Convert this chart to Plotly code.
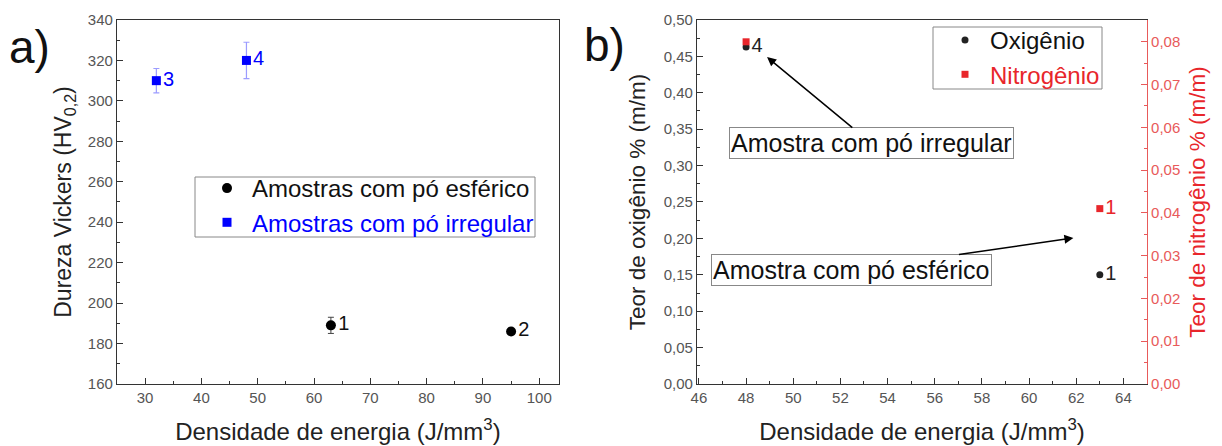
import plotly.graph_objects as go

# ---- Panel a: Vickers hardness ----
esf_labels = ["1", "2"]
esf_energy = [63, 95]
esf_hv = [189, 186]
esf_err = [4, 1]

irr_labels = ["3", "4"]
irr_energy = [32, 48]
irr_hv = [310, 320]
irr_err = [6, 9]

# ---- Panel b: oxygen / nitrogen content ----
b_energy = [48, 63]
oxygen = [0.463, 0.15]
oxygen_labels = ["4", "1"]
nitrogen = [0.080, 0.041]
nitrogen_labels = ["", "1"]

FONT = "Arial, Liberation Sans, sans-serif"
BLUE = "#0000ff"
RED = "#e8262b"
RED_AX = "#e85a5a"
W, H = 1222, 446

fig = go.Figure()

fig.add_trace(go.Scatter(
    x=esf_energy, y=esf_hv, mode="markers+text", text=esf_labels,
    textposition="middle right", textfont=dict(size=20, color="#111"),
    error_y=dict(type="data", array=esf_err, color="#444", thickness=1, width=3),
    marker=dict(symbol="circle", size=10, color="black"),
    name="Amostras com pó esférico", xaxis="x", yaxis="y", legend="legend"))
fig.add_trace(go.Scatter(
    x=irr_energy, y=irr_hv, mode="markers+text", text=irr_labels,
    textposition="middle right", textfont=dict(size=20, color=BLUE),
    error_y=dict(type="data", array=irr_err, color="rgba(90,90,255,0.6)", thickness=1.2, width=3),
    marker=dict(symbol="square", size=9, color=BLUE),
    name=f"<span style='color:{BLUE}'>Amostras com pó irregular</span>",
    xaxis="x", yaxis="y", legend="legend"))

fig.add_trace(go.Scatter(
    x=b_energy, y=oxygen, mode="markers+text", text=oxygen_labels,
    textposition="middle right", textfont=dict(size=20, color="#222"),
    marker=dict(symbol="circle", size=7, color="#222"),
    name="Oxigênio", xaxis="x2", yaxis="y2", legend="legend2"))
fig.add_trace(go.Scatter(
    x=b_energy, y=nitrogen, mode="markers+text", text=nitrogen_labels,
    textposition="middle right", textfont=dict(size=20, color=RED),
    marker=dict(symbol="square", size=7, color=RED),
    name=f"<span style='color:{RED}'>Nitrogênio</span>",
    xaxis="x2", yaxis="y3", legend="legend2"))

common = dict(showline=True, linecolor="#333", linewidth=1.2, ticks="inside",
              ticklen=6, tickcolor="#333", tickwidth=1.2,
              tickfont=dict(size=15, color="#555", family=FONT),
              showgrid=False, zeroline=False, automargin=False)

ydom = [0.139, 0.9552]

fig.update_layout(
    width=W, height=H, margin=dict(l=0, r=0, t=0, b=0, autoexpand=False),
    paper_bgcolor="white", plot_bgcolor="white",
    font=dict(family=FONT, color="#222"),
    separators=",.",
    xaxis=dict(common, domain=[0.0957, 0.4574], range=[25, 103.5], anchor="y",
               tick0=0, dtick=10, mirror=True,
               minor=dict(ticks="inside", ticklen=3, tick0=0, dtick=5, tickcolor="#333"),
               title=dict(text="Densidade de energia (J/mm<sup>3</sup>)",
                          font=dict(size=24, color="#222"), standoff=18)),
    yaxis=dict(common, domain=ydom, range=[160, 340], anchor="x",
               tick0=0, dtick=20, mirror=True,
               minor=dict(ticks="inside", ticklen=3, tick0=0, dtick=10, tickcolor="#333"),
               title=dict(text="Dureza Vickers (HV<sub>0,2</sub>)",
                          font=dict(size=23, color="#222"), standoff=9)),
    xaxis2=dict(common, domain=[0.5704, 0.9386], range=[45.92, 65.0], anchor="y2",
                tick0=0, dtick=2, mirror=True,
                minor=dict(ticks="inside", ticklen=3, tick0=0, dtick=1, tickcolor="#333"),
                title=dict(text="Densidade de energia (J/mm<sup>3</sup>)",
                           font=dict(size=24, color="#222"), standoff=18)),
    yaxis2=dict(common, domain=ydom, range=[0, 0.5], anchor="x2",
                tick0=0, dtick=0.05, tickformat=".2f",
                minor=dict(ticks="inside", ticklen=3, tick0=0, dtick=0.025, tickcolor="#333"),
                title=dict(text="Teor de oxigênio % (m/m)",
                           font=dict(size=22.5, color="#222"), standoff=11)),
    yaxis3=dict(common, overlaying="y2", side="right", anchor="x2",
                range=[0, 0.0851], tick0=0, dtick=0.01, tickformat=".2f",
                linecolor=RED_AX, tickcolor=RED_AX,
                tickfont=dict(size=15, color=RED_AX, family=FONT),
                minor=dict(ticks="inside", ticklen=3, tick0=0, dtick=0.005, tickcolor=RED_AX),
                title=dict(text="Teor de nitrogênio % (m/m)",
                           font=dict(size=22.5, color=RED), standoff=9)),
    legend=dict(x=202 / W, y=1 - 166 / H, xanchor="left", yanchor="top",
                borderwidth=0, bgcolor="rgba(0,0,0,0)", itemwidth=40,
                font=dict(size=24, color="#111")),
    legend2=dict(x=940 / W, y=1 - 18 / H, xanchor="left", yanchor="top",
                 borderwidth=0, bgcolor="rgba(0,0,0,0)", itemwidth=40,
                 font=dict(size=24, color="#111")),
)

# legend frames
for (x0, x1, y0, y1) in [(195, 535, 177, 237), (933, 1102, 27, 89)]:
    fig.add_shape(type="rect", xref="paper", yref="paper",
                  x0=x0 / W, x1=x1 / W, y0=1 - y1 / H, y1=1 - y0 / H,
                  line=dict(color="#888", width=1), fillcolor="rgba(0,0,0,0)")

ann_box = dict(font=dict(size=25, color="#111"), bgcolor="white",
               bordercolor="#888", borderwidth=1, borderpad=1,
               showarrow=True, arrowhead=2, arrowsize=1.2, arrowwidth=1.5,
               arrowcolor="black", xref="x2", yref="y2")
fig.add_annotation(ann_box, text="Amostra com pó irregular", x=48.89, y=0.449,
                   ax=104, ay=86)
fig.add_annotation(ann_box, text="Amostra com pó esférico", x=61.88, y=0.2005,
                   ax=-222, ay=32)

fig.add_annotation(text="a)", xref="paper", yref="paper", x=30 / W, y=1 - 47 / H,
                   xanchor="center", yanchor="middle",
                   showarrow=False, font=dict(size=46, color="#111"))
fig.add_annotation(text="b)", xref="paper", yref="paper", x=604 / W, y=1 - 45 / H,
                   xanchor="center", yanchor="middle",
                   showarrow=False, font=dict(size=46, color="#111"))

fig.write_html("out.html", config={"displayModeBar": False},
               post_script="document.body.style.margin='0';")
